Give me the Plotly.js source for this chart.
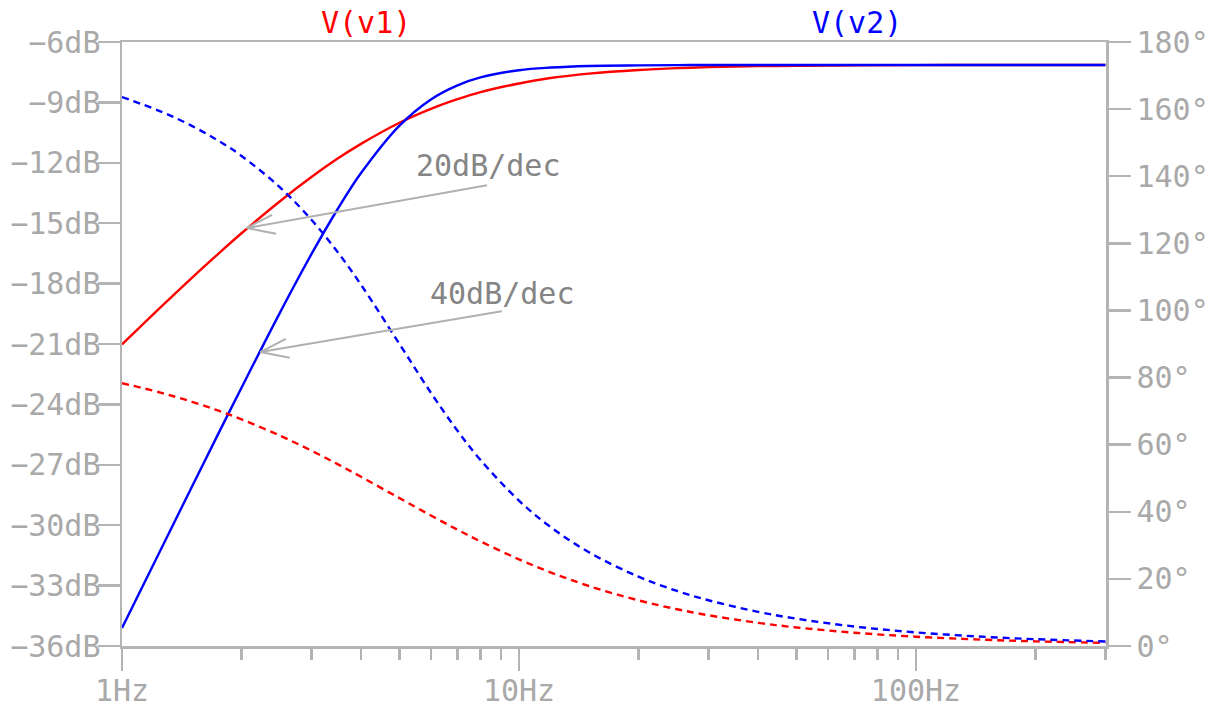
<!DOCTYPE html>
<html>
<head>
<meta charset="utf-8">
<script src="https://cdn.plot.ly/plotly-3.0.1.min.js"></script>
<style>html,body{margin:0;padding:0;background:#fff;}#chart{width:1212px;height:711px;}</style>
</head>
<body>
<div id="chart"></div>
<script>
// Frequencies (Hz)
const freq = [1, 1.25, 1.5, 1.75, 2, 2.5, 3, 3.5, 4, 5, 6, 7, 8, 10, 12, 15, 20, 25, 30, 40, 50, 70, 100, 150, 200, 300];
// V(v1) magnitude (dB) and phase (deg)
const v1Mag = [-21.02, -19.18, -17.71, -16.51, -15.50, -13.91, -12.71, -11.78, -11.06, -10.01, -9.32, -8.84, -8.49, -8.06, -7.79, -7.57, -7.39, -7.30, -7.25, -7.20, -7.18, -7.16, -7.15, -7.14, -7.14, -7.14];
const v1Phase = [78.33, 75.52, 72.78, 70.12, 67.55, 62.69, 58.21, 54.13, 50.43, 44.06, 38.89, 34.66, 31.17, 25.83, 21.97, 17.88, 13.60, 10.96, 9.17, 6.90, 5.53, 3.96, 2.77, 1.85, 1.39, 0.92];
// V(v2) magnitude (dB) and phase (deg)
const v2Mag = [-35.11, -31.24, -28.09, -25.44, -23.17, -19.44, -16.54, -14.27, -12.51, -10.15, -8.85, -8.15, -7.76, -7.40, -7.27, -7.19, -7.16, -7.15, -7.14, -7.14, -7.14, -7.14, -7.14, -7.14, -7.14, -7.14];
const v2Phase = [163.59, 159.34, 155.00, 150.57, 146.04, 136.69, 127.03, 117.26, 107.65, 90.00, 75.46, 64.13, 55.42, 43.31, 35.49, 27.94, 20.66, 16.41, 13.63, 10.18, 8.13, 5.80, 4.05, 2.70, 2.03, 1.35];

// Tick labels
const xTickVals = [1, 10, 100];
const xTickText = ['1Hz', '10Hz', '100Hz'];
const xMinorVals = [2,3,4,5,6,7,8,9,20,30,40,50,60,70,80,90,200,300];
const yTickVals = [-36, -33, -30, -27, -24, -21, -18, -15, -12, -9, -6];
const yTickText = ['\u221236dB','\u221233dB','\u221230dB','\u221227dB','\u221224dB','\u221221dB','\u221218dB','\u221215dB','\u221212dB','\u22129dB','\u22126dB'];
const y2TickVals = [0, 20, 40, 60, 80, 100, 120, 140, 160, 180];
const y2TickText = ['0\u00b0','20\u00b0','40\u00b0','60\u00b0','80\u00b0','100\u00b0','120\u00b0','140\u00b0','160\u00b0','180\u00b0'];

// Annotation labels
const slopeLabels = ['20dB/dec', '40dB/dec'];
const traceNames = ['V(v1)', 'V(v2)'];

const RED = '#ff0000', BLUE = '#0000ff';
const AX = '#b4b4b4', TICKTXT = '#a9a9a9', ANN = '#858585';
const MONO = 'DejaVu Sans Mono, monospace';
const FS = 30;

const traces = [
  {x: freq, y: v1Mag, yaxis: 'y', mode: 'lines', line: {color: RED, width: 2.4, shape: 'spline'}, name: traceNames[0]},
  {x: freq, y: v2Mag, yaxis: 'y', mode: 'lines', line: {color: BLUE, width: 2.4, shape: 'spline'}, name: traceNames[1]},
  {x: freq, y: v1Phase, yaxis: 'y2', mode: 'lines', line: {color: RED, width: 2.4, dash: '7px,5px', shape: 'spline'}, name: traceNames[0]},
  {x: freq, y: v2Phase, yaxis: 'y2', mode: 'lines', line: {color: BLUE, width: 2.4, dash: '7px,5px', shape: 'spline'}, name: traceNames[1]}
];

// arrow tips sit on the curves
const tip1 = {x: Math.log10(2.06), y: -15.24};
const tip2 = {x: Math.log10(2.23), y: -21.4};
function arrowParts(tip, tail) {
  const base = {xref: 'x', yref: 'y', x: tip.x, y: tip.y, text: '', showarrow: true, arrowhead: 0,
                arrowcolor: '#b0b0b0', arrowwidth: 2, axref: 'pixel', ayref: 'pixel'};
  return [
    Object.assign({}, base, {ax: tail[0], ay: tail[1]}),
    Object.assign({}, base, {ax: 27, ay: -14}),
    Object.assign({}, base, {ax: 31, ay: 6})
  ];
}

const annotations = [
  {xref: 'paper', yref: 'paper', x: (366-122)/984, y: 1, yshift: 20, yanchor: 'middle', xanchor: 'center', showarrow: false,
   text: traceNames[0], font: {family: MONO, size: FS, color: RED}},
  {xref: 'paper', yref: 'paper', x: (857-122)/984, y: 1, yshift: 20, yanchor: 'middle', xanchor: 'center', showarrow: false,
   text: traceNames[1], font: {family: MONO, size: FS, color: BLUE}},
  {xref: 'paper', yref: 'paper', x: (488-122)/984, y: (646-165)/604, xanchor: 'center', yanchor: 'middle', showarrow: false,
   text: slopeLabels[0], font: {family: MONO, size: FS, color: ANN}},
  {xref: 'paper', yref: 'paper', x: (502-122)/984, y: (646-293)/604, xanchor: 'center', yanchor: 'middle', showarrow: false,
   text: slopeLabels[1], font: {family: MONO, size: FS, color: ANN}}
].concat(arrowParts(tip1, [242, -43])).concat(arrowParts(tip2, [243, -41]));

const layout = {
  width: 1212, height: 711,
  margin: {l: 122, r: 106, t: 42, b: 65, pad: 0},
  paper_bgcolor: '#ffffff', plot_bgcolor: '#ffffff',
  showlegend: false,
  xaxis: {
    type: 'log', range: [0, Math.log10(301)],
    tickmode: 'array', tickvals: xTickVals, ticktext: xTickText,
    ticks: 'outside', ticklen: 22, tickwidth: 2.5, tickcolor: AX,
    minor: {tickmode: 'array', tickvals: xMinorVals, ticks: 'outside', ticklen: 11, tickwidth: 2.5, tickcolor: AX, showgrid: false},
    showline: true, linecolor: AX, linewidth: 2.5, mirror: true,
    showgrid: false, zeroline: false, ticklabelstandoff: -6,
    tickfont: {family: MONO, size: FS, color: TICKTXT}
  },
  yaxis: {
    range: [-36, -6], tickmode: 'array', tickvals: yTickVals, ticktext: yTickText,
    ticks: 'outside', ticklen: 22, tickwidth: 2.5, tickcolor: AX,
    showline: true, linecolor: AX, linewidth: 2.5,
    showgrid: false, zeroline: false, ticklabelstandoff: -9,
    tickfont: {family: MONO, size: FS, color: TICKTXT}
  },
  yaxis2: {
    range: [0, 180], overlaying: 'y', side: 'right',
    tickmode: 'array', tickvals: y2TickVals, ticktext: y2TickText,
    ticks: 'outside', ticklen: 22, tickwidth: 2.5, tickcolor: AX,
    showline: true, linecolor: AX, linewidth: 2.5,
    showgrid: false, zeroline: false,
    tickfont: {family: MONO, size: FS, color: TICKTXT}
  },
  annotations: annotations
};

Plotly.newPlot('chart', traces, layout, {displayModeBar: false, staticPlot: true});
</script>
</body>
</html>
